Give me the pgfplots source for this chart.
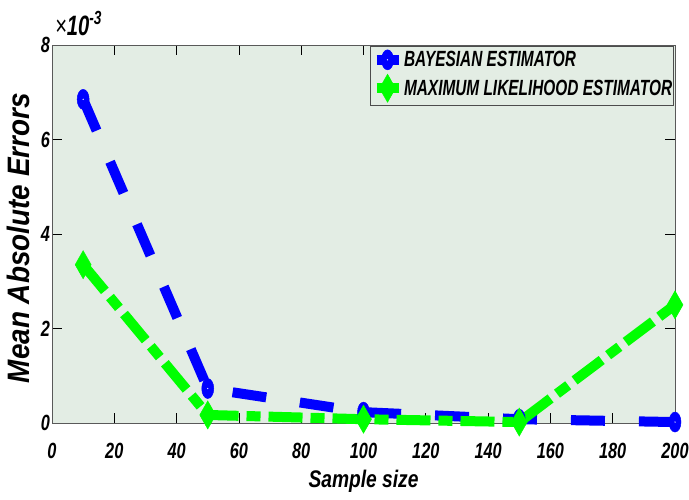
\documentclass[border=0pt]{standalone}
\usepackage{fontspec}
\setmainfont{Liberation Sans}
\newfontfamily\tickfont[FakeStretch=0.74]{Liberation Sans}
\newfontfamily\legfont[FakeStretch=0.70]{Liberation Sans}
\newfontfamily\xlabfont[FakeStretch=0.80]{Liberation Sans}
\newfontfamily\ylabfont[FakeStretch=0.90]{Liberation Sans}
\newfontfamily\expfont[FakeStretch=0.72]{Liberation Sans}
\usepackage{pgfplots}
\pgfplotsset{compat=1.18}
\definecolor{bg}{RGB}{227,237,228}
\pgfdeclareplotmark{vcirc}{%
  \pgfpathellipse{\pgfpointorigin}{\pgfqpoint{0.6\pgfplotmarksize}{0pt}}{\pgfqpoint{0pt}{\pgfplotmarksize}}%
  \pgfusepathqfillstroke
  \begin{pgfscope}\pgfsetfillcolor{white}\pgfpathcircle{\pgfpointorigin}{0.7pt}\pgfusepathqfill\end{pgfscope}}
\pgfdeclareplotmark{vdiam}{%
  \pgfpathmoveto{\pgfqpoint{0pt}{\pgfplotmarksize}}%
  \pgfpathlineto{\pgfqpoint{0.57\pgfplotmarksize}{0pt}}%
  \pgfpathlineto{\pgfqpoint{0pt}{-\pgfplotmarksize}}%
  \pgfpathlineto{\pgfqpoint{-0.57\pgfplotmarksize}{0pt}}%
  \pgfpathclose\pgfusepathqfillstroke}
\begin{document}
\begin{tikzpicture}
\useasboundingbox (-52bp,-77bp) rectangle (637bp,423bp);
\begin{axis}[
  at={(0,0)}, anchor=south west,
  scale only axis, width=623bp, height=378bp,
  xmin=0, xmax=200, ymin=0, ymax=0.008,
  xtick={0,20,40,60,80,100,120,140,160,180,200},
  ytick={0,0.002,0.004,0.006,0.008},
  yticklabels={0,2,4,6,8},
  scaled y ticks=false,
  axis background/.style={fill=bg},
  tick align=inside, major tick length=10bp,
  axis line style={gray!70!black, line width=0.8bp},
  tick style={black, line width=0.8bp},
  /pgf/number format/assume math mode=true,
  ticklabel style={font=\tickfont\bfseries\itshape\fontsize{22bp}{22bp}\selectfont},
  xticklabel style={yshift=-17bp},
  yticklabel style={xshift=1.5bp},
  xlabel={Sample size},
  ylabel={Mean Absolute Errors},
  xlabel style={at={(axis description cs:0.5,0)}, anchor=base, yshift=-64bp, inner sep=0pt,
     font=\xlabfont\bfseries\itshape\fontsize{24bp}{24bp}\selectfont},
  ylabel style={at={(axis description cs:-0.072,0.489)}, anchor=north, inner sep=0pt,
     font=\ylabfont\bfseries\itshape\fontsize{31bp}{31bp}\selectfont},
  clip=false,
  legend style={at={(rel axis cs:1,1)}, anchor=north east, xshift=-1bp, yshift=-1bp,
     fill=bg, draw=gray!60!black, line width=0.8bp,
     font=\legfont\bfseries\itshape\fontsize{22bp}{22bp}\selectfont,
     inner xsep=1bp, inner ysep=3bp, row sep=4bp,
     nodes={inner xsep=0.5bp}},
  legend cell align=left,
  legend image code/.code={\draw[mark repeat=2,mark phase=2,#1,solid,line width=10bp] plot coordinates {(0bp,0bp)(11bp,0bp)(22bp,0bp)};},
]
\addplot[blue, line width=10bp, dash pattern=on 34bp off 34bp, mark=vcirc, mark size=10bp, mark options={solid, line width=0.5bp}]
  coordinates {(10,0.00685)(50,0.00073)(100,0.00023)(150,0.00008)(200,0.00002)};
\addlegendentry{BAYESIAN ESTIMATOR}
\addplot[green, line width=10bp, dash pattern=on 34bp off 8bp on 14bp off 8bp, mark=vdiam, mark size=14bp, mark options={solid, line width=0.5bp}]
  coordinates {(10,0.00335)(50,0.00017)(100,0.00008)(150,0.00002)(200,0.0025)};
\addlegendentry{MAXIMUM LIKELIHOOD ESTIMATOR}
\node[anchor=base west, inner sep=0pt, xshift=3bp, yshift=10bp,
      font=\expfont\itshape\fontsize{28bp}{28bp}\selectfont]
  at (rel axis cs:0,1) {×\textbf{10}\raisebox{11bp}{\bfseries\fontsize{19bp}{19bp}\selectfont -3}};
\end{axis}
\end{tikzpicture}
\end{document}
